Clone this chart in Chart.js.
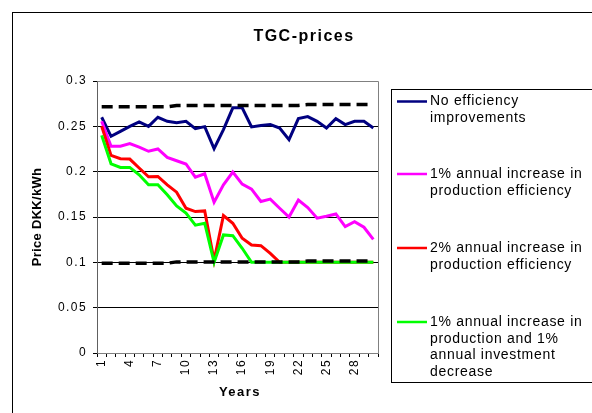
<!DOCTYPE html>
<html>
<head>
<meta charset="utf-8">
<script src="https://cdn.jsdelivr.net/npm/chart.js@4/dist/chart.umd.min.js"></script>
<style>
  html, body { margin: 0; padding: 0; background: #fff; }
  #wrap { width: 592px; height: 413px; position: relative; overflow: hidden; }
</style>
</head>
<body>
<div id="wrap"><canvas id="chart" width="592" height="413"></canvas></div>
<script>
// Years on the horizontal axis
const years = ['1','2','3','4','5','6','7','8','9','10','11','12','13','14','15',
               '16','17','18','19','20','21','22','23','24','25','26','27','28','29','30'];
const yearTickLabels = ['1','4','7','10','13','16','19','22','25','28'];
const priceTickLabels = ['0','0.05','0.1','0.15','0.2','0.25','0.3'];

// TGC prices, DKK/kWh
const noEfficiency = [0.260, 0.239, 0.2445, 0.250, 0.255, 0.250, 0.260, 0.2555, 0.254, 0.2555,
                      0.2475, 0.2497, 0.2255, 0.2464, 0.2704, 0.2704, 0.2493, 0.2508, 0.2519, 0.2482,
                      0.2353, 0.2585, 0.2607, 0.2555, 0.2482, 0.2585, 0.2519, 0.2555, 0.2555, 0.2482];
const efficiency1 = [0.2555, 0.228, 0.228, 0.231, 0.227, 0.2225, 0.225, 0.2157, 0.212, 0.2085,
                     0.194, 0.1977, 0.1664, 0.1855, 0.1996, 0.1863, 0.1808, 0.1671, 0.1697, 0.1597,
                     0.150, 0.1686, 0.1604, 0.1487, 0.1509, 0.1534, 0.1394, 0.1449, 0.1387, 0.1254];
const efficiency2 = [0.250, 0.218, 0.2143, 0.2139, 0.204, 0.1944, 0.1947, 0.1855, 0.1774, 0.1597,
                     0.156, 0.1567, 0.102, 0.1516, 0.1431, 0.1265, 0.1191, 0.1184, 0.1099, 0.100,
                     0.100, 0.100, 0.100, 0.100, 0.100, 0.100, 0.100, 0.100, 0.100, 0.100];
const efficiencyInvest = [0.240, 0.2087, 0.2047, 0.2047, 0.1966, 0.1855, 0.1855, 0.1745, 0.1623, 0.1542,
                          0.141, 0.1431, 0.100, 0.1302, 0.1294, 0.1155, 0.100, 0.100, 0.100, 0.100,
                          0.100, 0.100, 0.100, 0.100, 0.100, 0.100, 0.100, 0.100, 0.100, 0.100];
// Upper and lower price limits
const upperLimit = [0.2715, 0.2715, 0.2715, 0.2715, 0.2715, 0.2715, 0.2715, 0.2715, 0.273, 0.273,
                    0.273, 0.273, 0.273, 0.273, 0.273, 0.273, 0.273, 0.273, 0.273, 0.273,
                    0.273, 0.273, 0.274, 0.274, 0.274, 0.274, 0.274, 0.274, 0.274, 0.274];
const lowerLimit = [0.099, 0.099, 0.099, 0.099, 0.099, 0.099, 0.099, 0.099, 0.1005, 0.1005,
                    0.1005, 0.1005, 0.1005, 0.1005, 0.1005, 0.1005, 0.1005, 0.1005, 0.1005, 0.1005,
                    0.1005, 0.1005, 0.1015, 0.1015, 0.1015, 0.1015, 0.1015, 0.1015, 0.1015, 0.1015];

const seriesNames = [
  ['No efficiency', 'improvements'],
  ['1% annual increase in', 'production efficiency'],
  ['2% annual increase in', 'production efficiency'],
  ['1% annual increase in', 'production and 1%', 'annual investment', 'decrease']
];
const seriesColors = ['#000080', '#FF00FF', '#FF0000', '#00FF00'];

const FONT = '"Liberation Sans", Arial, sans-serif';

const frame = {
  id: 'frame',
  beforeDraw(chart) {
    chart.ctx.letterSpacing = '1.4px';
  },
  beforeDatasetsDraw(chart) {
    const { ctx, chartArea: a } = chart;
    ctx.save();
    ctx.strokeStyle = '#808080';
    ctx.lineWidth = 1;
    ctx.beginPath();
    ctx.moveTo(Math.round(a.left) + 0.5, Math.round(a.top) + 0.5);
    ctx.lineTo(Math.round(a.right) + 0.5, Math.round(a.top) + 0.5);
    ctx.lineTo(Math.round(a.right) + 0.5, Math.round(a.bottom) + 0.5);
    ctx.stroke();
    ctx.restore();
  },
  afterDraw(chart) {
    const { ctx, chartArea: a } = chart;
    ctx.save();
    // outer chart border
    ctx.strokeStyle = '#000';
    ctx.lineWidth = 1;
    ctx.strokeRect(12.5, 12.5, 620, 440);

    // title
    ctx.fillStyle = '#000';
    ctx.textAlign = 'center';
    ctx.textBaseline = 'middle';
    ctx.letterSpacing = '1.5px';
    ctx.font = 'bold 16px ' + FONT;
    ctx.fillText('TGC-prices', 304, 37);

    // axis titles
    ctx.font = 'bold 13px ' + FONT;
    ctx.letterSpacing = '1.5px';
    ctx.fillText('Years', 240, 392);
    ctx.save();
    ctx.translate(37, (a.top + a.bottom) / 2);
    ctx.rotate(-Math.PI / 2);
    ctx.letterSpacing = '0.3px';
    ctx.fillText('Price DKK/kWh', 0, 0);
    ctx.restore();

    // legend
    ctx.strokeStyle = '#000';
    ctx.lineWidth = 1;
    ctx.strokeRect(391.5, 89.5, 240, 293);
    const rows = [101.5, 174, 248, 322];
    ctx.textAlign = 'left';
    ctx.font = '14px ' + FONT;
    ctx.letterSpacing = '0.7px';
    seriesNames.forEach((lines, i) => {
      ctx.strokeStyle = seriesColors[i];
      ctx.lineWidth = 2.5;
      ctx.beginPath();
      ctx.moveTo(397, rows[i]);
      ctx.lineTo(427, rows[i]);
      ctx.stroke();
      lines.forEach((t, j) => ctx.fillText(t, 430, rows[i] + j * 16.8));
    });
    ctx.restore();
  }
};

const line = (data, color, order) => ({
  data, borderColor: color, backgroundColor: color, borderWidth: 3,
  pointRadius: 0, tension: 0, fill: false, order
});
const limit = (data) => ({
  data, borderColor: '#000', borderWidth: 3.5, borderDash: [11, 6],
  pointRadius: 0, tension: 0, fill: false, order: 0
});

new Chart(document.getElementById('chart'), {
  type: 'line',
  data: {
    labels: years,
    datasets: [
      line(noEfficiency, seriesColors[0], 4),
      line(efficiency1, seriesColors[1], 3),
      line(efficiency2, seriesColors[2], 2),
      line(efficiencyInvest, seriesColors[3], 1),
      limit(upperLimit),
      limit(lowerLimit)
    ]
  },
  options: {
    responsive: false,
    animation: false,
    devicePixelRatio: 1,
    layout: { padding: { left: 12, top: 81, right: 214, bottom: 0 } },
    plugins: { legend: { display: false }, tooltip: { enabled: false }, title: { display: false } },
    scales: {
      x: {
        type: 'category',
        offset: true,
        grid: { offset: true, drawOnChartArea: false, drawTicks: true, tickLength: 4, tickColor: '#000', tickWidth: 1 },
        border: { color: '#808080', width: 1 },
        ticks: {
          autoSkip: false, minRotation: 90, maxRotation: 90, padding: 2,
          color: '#000', font: { family: FONT, size: 12 },
          callback: function (v, i) {
            const lab = this.getLabelForValue(v);
            return yearTickLabels.includes(lab) ? lab : '';
          }
        },
        afterFit: s => { s.height = 60; }
      },
      y: {
        min: 0, max: 0.3,
        grid: {
          color: c => (c.tick && (c.tick.value >= 0.299 || c.tick.value <= 0.001)) ? 'rgba(0,0,0,0)' : '#000',
          tickColor: '#000', tickLength: 4, lineWidth: 1
        },
        border: { color: '#606060', width: 1 },
        ticks: {
          stepSize: 0.05, padding: 6, color: '#000', font: { family: FONT, size: 12 },
          callback: (v, i) => priceTickLabels[i]
        },
        afterFit: s => { s.width = 85; }
      }
    }
  },
  plugins: [frame]
});
</script>
</body>
</html>
